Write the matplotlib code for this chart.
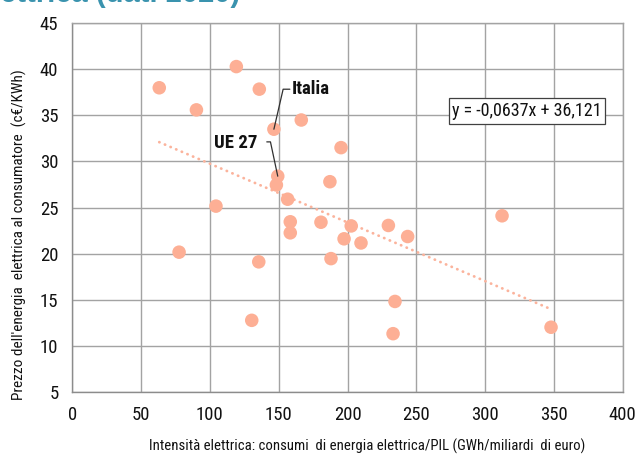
import matplotlib
matplotlib.use("Agg")
import matplotlib.pyplot as plt
import numpy as np

plt.rcParams['font.family'] = ['Roboto Condensed', 'Liberation Sans', 'DejaVu Sans']

# Electricity intensity (GWh per billion euro of GDP) and consumer price (c€/kWh)
intensity = [63.2, 119.2, 135.9, 90.2, 146.5, 166.4, 195.3, 149.3, 148.3, 156.5,
             187.2, 104.4, 158.4, 158.4, 180.7, 202.7, 229.7, 243.7, 197.5, 209.8,
             77.6, 135.5, 188.0, 234.5, 130.4, 233.1, 312.3, 347.9]
price = [38.0, 40.3, 37.85, 35.6, 33.5, 34.5, 31.5, 28.4, 27.45, 25.9,
         27.8, 25.15, 23.45, 22.25, 23.4, 23.0, 23.05, 21.85, 21.6, 21.15,
         20.15, 19.1, 19.45, 14.8, 12.75, 11.3, 24.1, 12.0]
italia_idx = 4
ue27_idx = 7

# Linear trend
slope = -0.0637
intercept = 36.121

x_ticks = [0, 50, 100, 150, 200, 250, 300, 350, 400]
y_ticks = [5, 10, 15, 20, 25, 30, 35, 40, 45]

point_color = '#FDAF95'
grid_color = '#A3A3A3'

fig = plt.figure(figsize=(6.37, 4.55), dpi=100)
ax = fig.add_axes([0.1135, 0.1391, 0.8641, 0.8097])

ax.set_xlim(0, 400)
ax.set_ylim(5, 45)
ax.set_xticks(x_ticks)
ax.set_yticks(y_ticks)
ax.grid(True, color=grid_color, linewidth=1.0)
ax.set_axisbelow(True)
for side in ['top', 'right']:
    ax.spines[side].set_color(grid_color)
    ax.spines[side].set_linewidth(1.0)
for side in ['left', 'bottom']:
    ax.spines[side].set_color('#8C8C8C')
    ax.spines[side].set_linewidth(1.0)
ax.tick_params(length=0, labelsize=13.5, pad=10, labelcolor='#111111')

# Trend line across the data range
xs = np.array([min(intensity), max(intensity)])
ax.plot(xs, slope * xs + intercept, color='#FBB39C', linewidth=2.0,
        linestyle=(0, (0.1, 2.1)), dash_capstyle='round', zorder=2)

ax.scatter(intensity, price, s=95, color=point_color, edgecolors='none', zorder=3)

# Labels for Italy and EU-27 with leader lines
lead = dict(arrowstyle='-', color='#303030', linewidth=0.9, shrinkA=0, shrinkB=0)
ax.annotate('', xy=(intensity[italia_idx], price[italia_idx]), xytext=(11.5, 28.8),
            textcoords='offset points',
            arrowprops=dict(lead, connectionstyle='angle,angleA=0,angleB=77,rad=0'))
ax.annotate('Italia', xy=(intensity[italia_idx], price[italia_idx]), xytext=(12.7, 28.8),
            textcoords='offset points', ha='left', va='center',
            fontsize=13.5, fontweight='bold', color='#111111')
ax.annotate('', xy=(intensity[ue27_idx], price[ue27_idx]), xytext=(-7.9, 24.7),
            textcoords='offset points',
            arrowprops=dict(lead, connectionstyle='angle,angleA=0,angleB=102,rad=0'))
ax.annotate('UE 27', xy=(intensity[ue27_idx], price[ue27_idx]), xytext=(-14.5, 24.0),
            textcoords='offset points', ha='right', va='center',
            fontsize=13.5, fontweight='bold', color='#111111')

# Trend equation
eq = 'y = -{:.4f}x + {:.3f}'.format(-slope, intercept).replace('.', ',')
ax.text(0.826, 0.762, eq, transform=ax.transAxes, ha='center', va='center',
        fontsize=13, color='#111111',
        bbox=dict(boxstyle='square,pad=0.2', facecolor='white', edgecolor='#404040',
                  linewidth=0.9))

fig.text(367 / 637, 1 - 446 / 455,
         'Intensità elettrica: consumi  di energia elettrica/PIL (GWh/miliardi  di euro)',
         ha='center', va='center', fontsize=10.6, color='#111111')
fig.text(19 / 637, 1 - 235 / 455,
         "Prezzo dell'energia  elettrica al consumatore  (c€/KWh)",
         ha='center', va='center', rotation=90, fontsize=11, color='#111111')

# Title line (upper part runs off the top of the figure)
fig.text(240 / 637, 1 - 2 / 455, 'elettrica (dati 2020)', ha='right', va='baseline',
         fontsize=21, fontweight='bold', color='#3A93AE',
         family=['Liberation Sans', 'DejaVu Sans'])

fig.savefig('out.png', dpi=100)
